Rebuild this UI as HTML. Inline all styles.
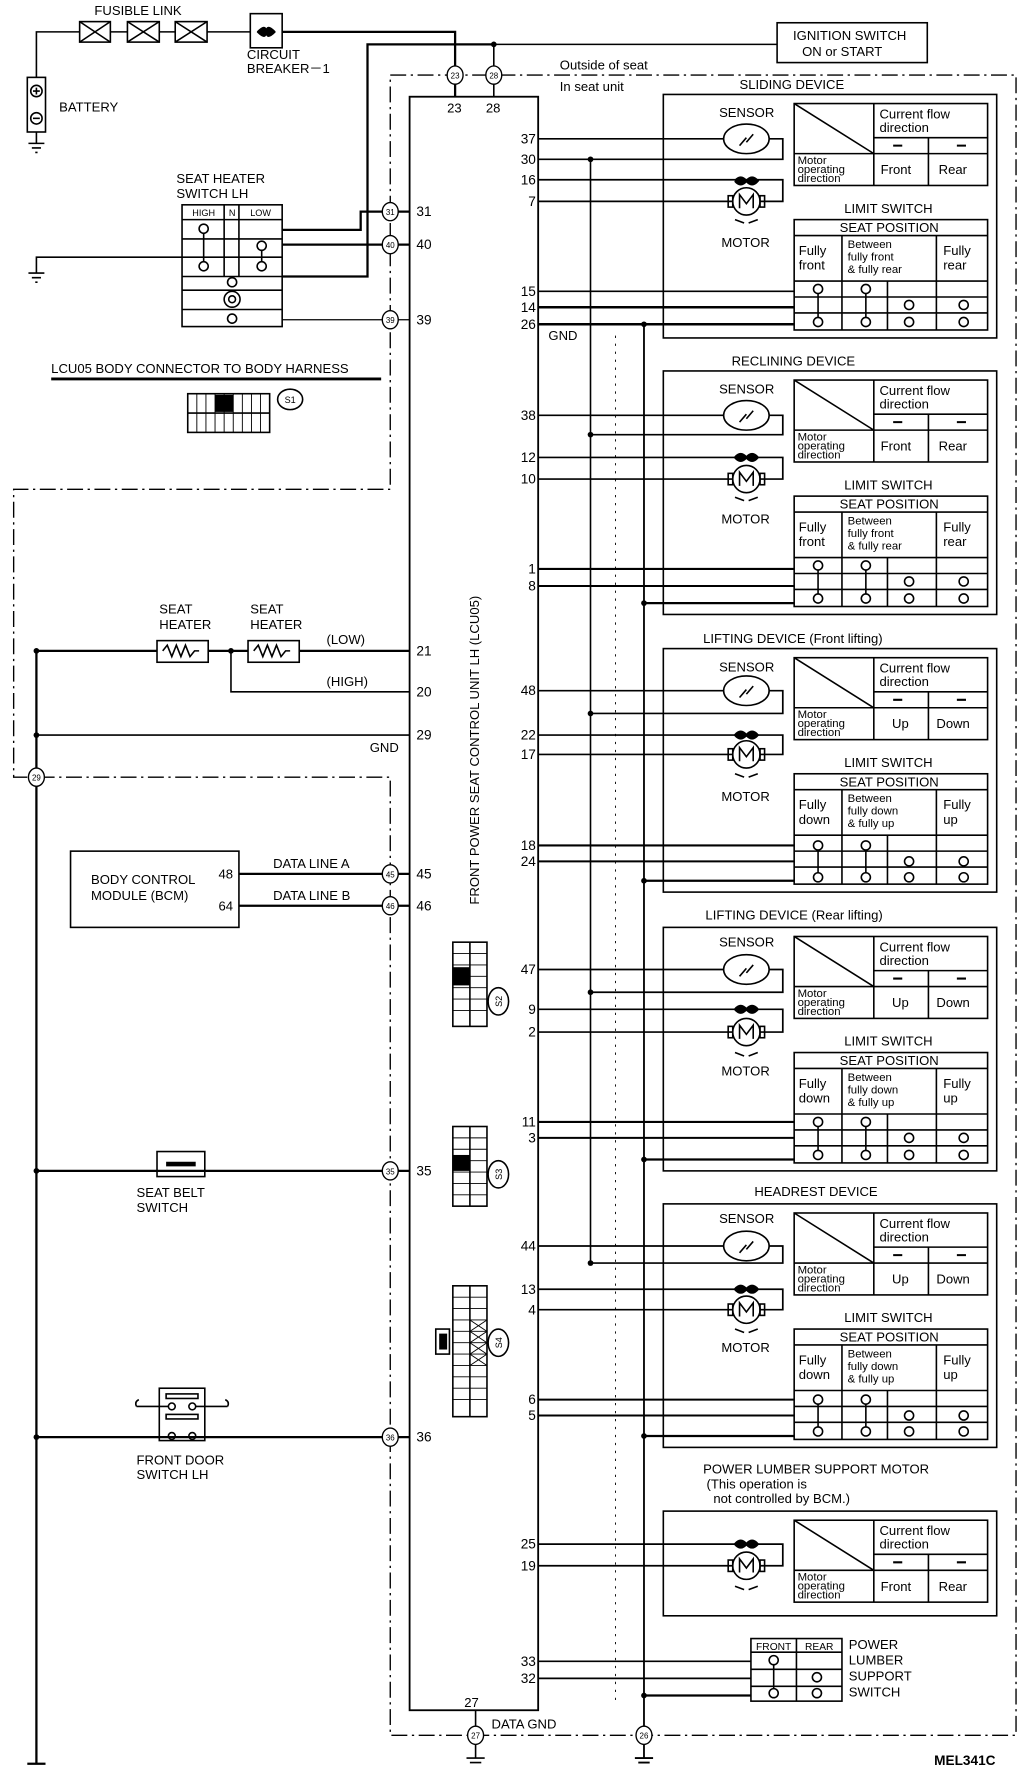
<!DOCTYPE html>
<html><head><meta charset="utf-8"><style>
html,body{margin:0;padding:0;background:#fff;}
svg{display:block;}
text{font-family:"Liberation Sans",sans-serif;fill:#000;}
.s{font-size:10px;}
</style></head><body>
<svg width="1024" height="1766" viewBox="0 0 900 1552" preserveAspectRatio="none" xmlns="http://www.w3.org/2000/svg">
<g fill="none" stroke="#000" stroke-width="1.4">
<path d="M32 68 V28 H70 M97 28 H112 M140 28 H154 M182 28 H220"/>
<rect x="70" y="19" width="27" height="18"/><path d="M70 19 L97 37 M97 19 L70 37"/>
<rect x="112" y="19" width="28" height="18"/><path d="M112 19 L140 37 M140 19 L112 37"/>
<rect x="154" y="19" width="28" height="18"/><path d="M154 19 L182 37 M182 19 L154 37"/>
<rect x="220" y="12" width="28" height="30"/>
<path d="M248 28 H400 V85" stroke-width="2"/>
<path d="M248 243 H323 V39 H434" stroke-width="2"/>
<path d="M434 39 H683 M434 39 V85"/>
<rect x="683" y="20" width="132" height="35"/>
<rect x="24" y="68" width="16" height="48"/>
<circle cx="32" cy="80" r="5"/><path d="M29 80 H35 M32 77 V83"/>
<circle cx="32" cy="104" r="5"/><path d="M29 104 H35"/>
<path d="M32 116 V126 M25 126 H39 M28 130 H36 M31 134 H33"/>
<path d="M343 66 H893 V1525 H343 V683 H12 V430 H343 Z" stroke-dasharray="14,4,2,4" stroke-width="1.2"/>
<rect x="360" y="85" width="113" height="1418" stroke-width="1.6"/>
<path d="M418 1503 V1545 M410 1545 H426 M413 1549 H423 M416 1553 H420"/>
<path d="M566 285 V1545 M558 1545 H574 M561 1549 H571 M564 1553 H568" stroke-width="1.6"/>
<path d="M519 140 V1110" stroke-width="1.4"/>
<path d="M541 295 V1495" stroke-width="0.8" stroke-dasharray="2,5"/>
<rect x="160" y="180" width="88" height="107"/>
<path d="M160 193 H248 M160 210 H248 M160 226 H248 M160 243 H248 M160 255 H248 M160 272 H248 M197 180 V243 M210 180 V243"/>
<path d="M248 202 H317 V186 H360 M248 215 H360" stroke-width="2"/>
<path d="M248 281 H360" stroke-width="1.2"/>
<path d="M160 226 H32 V240 M25 240 H39 M28 244 H36 M31 248 H33"/>
<circle cx="179" cy="201" r="4"/><circle cx="179" cy="234" r="4"/><path d="M179 205 V230"/>
<circle cx="230" cy="216" r="4"/><circle cx="230" cy="234" r="4"/><path d="M230 220 V230"/>
<circle cx="204" cy="248" r="4"/><circle cx="204" cy="263" r="7"/><circle cx="204" cy="263" r="3"/><circle cx="204" cy="280" r="4"/>
<path d="M45 333 H335" stroke-width="2.5"/>
<rect x="165" y="346" width="72" height="34"/><path d="M165 363 H237"/>
<ellipse cx="255" cy="351" rx="11" ry="9"/>
<path d="M32 572 H138 M183 572 H218 M263 572 H360" stroke-width="2"/>
<rect x="138" y="563" width="45" height="19"/><path d="M143 572 l4 -5 l4 10 l4 -10 l4 10 l4 -10 l4 10 l4 -5 h4"/>
<rect x="218" y="563" width="45" height="19"/><path d="M223 572 l4 -5 l4 10 l4 -10 l4 10 l4 -10 l4 10 l4 -5 h4"/>
<path d="M203 572 V608 H360" stroke-width="1.4"/>
<path d="M32 572 V1550 M24 1550 H40 M27 1554 H37 M30 1558 H34" stroke-width="2"/>
<path d="M32 646 H360" stroke-width="1.4"/>
<rect x="62" y="748" width="148" height="67"/>
<path d="M210 768 H360 M210 796 H360" stroke-width="2"/>
<path d="M32 1029 H360" stroke-width="2"/>
<rect x="138" y="1012" width="42" height="22"/>
<path d="M146 1023 H172" stroke-width="4"/>
<path d="M32 1263 H360" stroke-width="2"/>
<rect x="140" y="1220" width="40" height="46"/>
<rect x="146" y="1225" width="28" height="4"/><rect x="146" y="1243" width="28" height="4"/>
<circle cx="151" cy="1236" r="3"/><circle cx="169" cy="1236" r="3"/><circle cx="151" cy="1262" r="3"/><circle cx="169" cy="1262" r="3"/>
<path d="M120 1236 H148 M172 1236 H200 M120 1236 q-2 -4 2 -6 M200 1236 q2 -4 -2 -6"/>
<rect x="398" y="828" width="30" height="74"/><path d="M413 828 V902"/>
<rect x="398" y="990" width="30" height="70"/><path d="M413 990 V1060"/>
<rect x="398" y="1130" width="30" height="115"/><path d="M413 1130 V1245"/>
<rect x="383" y="1168" width="12" height="22"/>
<ellipse cx="438" cy="880" rx="9" ry="12"/><ellipse cx="438" cy="1032" rx="9" ry="12"/><ellipse cx="438" cy="1180" rx="9" ry="12"/>
</g>
<g stroke="#000" stroke-width="0.8" fill="none">
<path d="M398 838 h30 M398 848 h30 M398 858 h30 M398 868 h30 M398 878 h30 M398 888 h30"/>
<path d="M398 1000 h30 M398 1010 h30 M398 1020 h30 M398 1030 h30 M398 1040 h30 M398 1050 h30"/>
<path d="M398 1140 h30 M398 1150 h30 M398 1160 h30 M398 1170 h30 M398 1180 h30 M398 1190 h30 M398 1200 h30 M398 1210 h30 M398 1220 h30 M398 1230 h30"/>
<path d="M173 346 v34 M181 346 v34 M189 346 v34 M197 346 v34 M205 346 v34 M213 346 v34 M221 346 v34 M229 346 v34"/>
<path d="M413 1160 l15 10 M428 1160 l-15 10 M413 1170 l15 10 M428 1170 l-15 10 M413 1180 l15 10 M428 1180 l-15 10 M413 1190 l15 10 M428 1190 l-15 10"/>
</g>
<rect x="398" y="850" width="15" height="16" fill="#000"/>
<rect x="398" y="1015" width="15" height="14" fill="#000"/>
<rect x="386" y="1172" width="7" height="14" fill="#000"/>
<rect x="189" y="347" width="16" height="15" fill="#000"/>
<path d="M226 28 q8 -8 8 0 q0 8 -8 0 M242 28 q-8 -8 -8 0 q0 8 8 0" fill="#000" stroke="#000"/>
<g fill="#000">
<circle cx="434" cy="39" r="2.5"/><circle cx="203" cy="572" r="2.5"/><circle cx="32" cy="572" r="2.5"/><circle cx="32" cy="646" r="2.5"/><circle cx="32" cy="1029" r="2.5"/><circle cx="32" cy="1263" r="2.5"/>
<circle cx="519" cy="140" r="2.5"/><circle cx="519" cy="382" r="2.5"/><circle cx="519" cy="627" r="2.5"/><circle cx="519" cy="872" r="2.5"/><circle cx="519" cy="1110" r="2.5"/>
<circle cx="566" cy="285" r="2.5"/><circle cx="566" cy="530" r="2.5"/><circle cx="566" cy="774" r="2.5"/><circle cx="566" cy="1019" r="2.5"/><circle cx="566" cy="1262" r="2.5"/><circle cx="566" cy="1490" r="2.5"/>
</g>
<g fill="#fff" stroke="#000" stroke-width="1.2">
<ellipse cx="400" cy="66" rx="7" ry="8"/><ellipse cx="434" cy="66" rx="7" ry="8"/>
<ellipse cx="343" cy="186" rx="7" ry="8"/><ellipse cx="343" cy="215" rx="7" ry="8"/><ellipse cx="343" cy="281" rx="7" ry="8"/>
<ellipse cx="32" cy="683" rx="7" ry="8"/>
<ellipse cx="343" cy="768" rx="7" ry="8"/><ellipse cx="343" cy="796" rx="7" ry="8"/>
<ellipse cx="343" cy="1029" rx="7" ry="8"/><ellipse cx="343" cy="1263" rx="7" ry="8"/>
<ellipse cx="418" cy="1525" rx="7" ry="8"/><ellipse cx="566" cy="1525" rx="7" ry="8"/>
</g>
<g font-size="7" text-anchor="middle">
<text x="400" y="69">23</text><text x="434" y="69">28</text><text x="343" y="189">31</text><text x="343" y="218">40</text><text x="343" y="284">39</text><text x="32" y="686">29</text><text x="343" y="771">45</text><text x="343" y="799">46</text><text x="343" y="1032">35</text><text x="343" y="1266">36</text><text x="418" y="1528">27</text><text x="566" y="1528">26</text>
<text x="255" y="354" font-size="8">S1</text>
</g>
<g font-size="8" text-anchor="middle">
<text transform="translate(441,880) rotate(-90)">S2</text>
<text transform="translate(441,1032) rotate(-90)">S3</text>
<text transform="translate(441,1180) rotate(-90)">S4</text>
</g>
<g font-size="11.5">
<text x="83" y="13">FUSIBLE LINK</text>
<text x="217" y="52">CIRCUIT</text><text x="217" y="64">BREAKER－1</text>
<text x="52" y="98">BATTERY</text>
<text x="697" y="35">IGNITION SWITCH</text><text x="705" y="49">ON or START</text>
<text x="492" y="61">Outside of seat</text><text x="492" y="80">In seat unit</text>
<text x="393" y="99">23</text><text x="427" y="99">28</text>
<text x="155" y="161">SEAT HEATER</text><text x="155" y="174">SWITCH LH</text>
<text x="45" y="328">LCU05 BODY CONNECTOR TO BODY HARNESS</text>
<text x="140" y="539">SEAT</text><text x="140" y="553">HEATER</text>
<text x="220" y="539">SEAT</text><text x="220" y="553">HEATER</text>
<text x="287" y="566">(LOW)</text><text x="287" y="603">(HIGH)</text>
<text x="325" y="661">GND</text>
<text x="80" y="777">BODY CONTROL</text><text x="80" y="791">MODULE (BCM)</text>
<text x="192" y="772">48</text><text x="192" y="800">64</text>
<text x="240" y="763">DATA LINE A</text><text x="240" y="791">DATA LINE B</text>
<text x="120" y="1052">SEAT BELT</text><text x="120" y="1065">SWITCH</text>
<text x="120" y="1287">FRONT DOOR</text><text x="120" y="1300">SWITCH LH</text>
<text x="408" y="1500">27</text><text x="432" y="1519">DATA GND</text>
<text x="482" y="299">GND</text>
</g>
<g font-size="12">
<text x="366" y="190">31</text><text x="366" y="219">40</text><text x="366" y="285">39</text>
<text x="366" y="576">21</text><text x="366" y="612">20</text><text x="366" y="650">29</text>
<text x="366" y="772">45</text><text x="366" y="800">46</text><text x="366" y="1033">35</text><text x="366" y="1267">36</text>
</g>
<g font-size="8" text-anchor="middle"><text x="179" y="190">HIGH</text><text x="204" y="190">N</text><text x="229" y="190">LOW</text></g>
<text transform="translate(421,795) rotate(-90)" font-size="11.5">FRONT POWER SEAT CONTROL UNIT LH (LCU05)</text>
<text x="821" y="1551" font-size="12" font-weight="bold">MEL341C</text>

<g font-size="12" text-anchor="end">
<text x="471" y="126">37</text><text x="471" y="144">30</text><text x="471" y="162">16</text><text x="471" y="181">7</text>
<text x="471" y="260">15</text><text x="471" y="274">14</text><text x="471" y="289">26</text>
<text x="471" y="369">38</text><text x="471" y="406">12</text><text x="471" y="425">10</text><text x="471" y="504">1</text><text x="471" y="519">8</text>
<text x="471" y="611">48</text><text x="471" y="650">22</text><text x="471" y="667">17</text><text x="471" y="747">18</text><text x="471" y="761">24</text>
<text x="471" y="856">47</text><text x="471" y="891">9</text><text x="471" y="911">2</text><text x="471" y="990">11</text><text x="471" y="1004">3</text>
<text x="471" y="1099">44</text><text x="471" y="1137">13</text><text x="471" y="1155">4</text><text x="471" y="1234">6</text><text x="471" y="1248">5</text>
<text x="471" y="1361">25</text><text x="471" y="1380">19</text>
<text x="471" y="1464">33</text><text x="471" y="1479">32</text>
</g>

<g fill="none" stroke="#000" stroke-width="1.5">
<path d="M473 122 H636 M676 122 H688 V140 H473 M473 158 H688 V177 H668 M473 177 H644"/>
<path d="M473 256 H698"/><path d="M473 270 H698 M473 285 H698" stroke-width="2.2"/>
<path d="M473 365 H636 M676 365 H688 V382 H519 M473 402 H688 V421 H668 M473 421 H644"/>
<path d="M473 500 H698 M473 515 H698" stroke-width="1.8"/><path d="M566 530 H698" stroke-width="2"/>
<path d="M473 607 H636 M676 607 H688 V627 H519 M473 646 H688 V663 H668 M473 663 H644"/>
<path d="M473 743 H698 M473 757 H698" stroke-width="1.8"/><path d="M566 774 H698" stroke-width="2"/>
<path d="M473 852 H636 M676 852 H688 V872 H519 M473 887 H688 V907 H668 M473 907 H644"/>
<path d="M473 986 H698 M473 1000 H698" stroke-width="1.8"/><path d="M566 1019 H698" stroke-width="2"/>
<path d="M473 1095 H636 M676 1095 H688 V1110 H519 M473 1133 H688 V1151 H668 M473 1151 H644"/>
<path d="M473 1230 H698 M473 1244 H698" stroke-width="1.8"/><path d="M566 1262 H698" stroke-width="2"/>
<path d="M473 1357 H688 V1376 H668 M473 1376 H644"/>
<path d="M473 1460 H660 M473 1475 H660"/><path d="M566 1490 H660" stroke-width="2"/>
</g>

<g transform="translate(0,83)">
<g fill="none" stroke="#000" stroke-width="1.4">
<rect x="583" y="0" width="293" height="214"/>
<ellipse cx="656" cy="39" rx="20" ry="13"/><path d="M650 45 l6 -7 M656 42 l6 -7"/>
<circle cx="656" cy="94" r="12"/><rect x="640" y="89" width="4" height="10"/><rect x="668" y="89" width="4" height="10"/>
<path d="M650 100 V88 L656 96 L662 88 V100"/>
<path d="M646 110 l8 3 M666 110 l-8 3"/>
<rect x="698" y="8" width="170" height="72"/><path d="M768 8 V80 M768 38 H868 M698 52 H868 M816 38 V80 M698 8 L768 52"/>
<path d="M785 45 h8 M841 45 h8" stroke-width="1.8"/>
<rect x="698" y="110" width="170" height="97"/><path d="M698 124 H868 M698 164 H868 M698 178 H868 M698 192 H868 M740 124 V207 M823 124 V207 M780 164 V207"/>
<circle cx="719" cy="171" r="4"/><circle cx="719" cy="200" r="4"/><path d="M719 175 V196"/>
<circle cx="761" cy="171" r="4"/><circle cx="761" cy="200" r="4"/><path d="M761 175 V196"/>
<circle cx="799" cy="185" r="4"/><circle cx="799" cy="200" r="4"/>
<circle cx="847" cy="185" r="4"/><circle cx="847" cy="200" r="4"/>
</g>
<path d="M646 76 q5 -6 10 0 q5 -6 10 0 q-5 6 -10 0 q-5 6 -10 0" fill="#000" stroke="#000" stroke-width="2"/>
<g font-size="11.5"><text x="632" y="20">SENSOR</text><text x="634" y="134">MOTOR</text>
<text x="742" y="104">LIMIT SWITCH</text><text x="738" y="121">SEAT POSITION</text>
<text x="773" y="21">Current flow</text><text x="773" y="33">direction</text>
<text class="s" x="701" y="61">Motor</text><text class="s" x="701" y="69">operating</text><text class="s" x="701" y="77">direction</text>
<text x="702" y="141">Fully</text><text x="702" y="154">front</text>
<text class="s" x="745" y="135">Between</text><text class="s" x="745" y="146">fully front</text><text class="s" x="745" y="157">&amp; fully rear</text>
<text x="829" y="141">Fully</text><text x="829" y="154">rear</text>
<text x="774" y="70">Front</text><text x="825" y="70">Rear</text></g>
</g>
<text x="650" y="78" font-size="11.5">SLIDING DEVICE</text>

<g transform="translate(0,326)">
<g fill="none" stroke="#000" stroke-width="1.4">
<rect x="583" y="0" width="293" height="214"/>
<ellipse cx="656" cy="39" rx="20" ry="13"/><path d="M650 45 l6 -7 M656 42 l6 -7"/>
<circle cx="656" cy="95" r="12"/><rect x="640" y="90" width="4" height="10"/><rect x="668" y="90" width="4" height="10"/>
<path d="M650 101 V89 L656 97 L662 89 V101"/>
<path d="M646 111 l8 3 M666 111 l-8 3"/>
<rect x="698" y="8" width="170" height="72"/><path d="M768 8 V80 M768 38 H868 M698 52 H868 M816 38 V80 M698 8 L768 52"/>
<path d="M785 45 h8 M841 45 h8" stroke-width="1.8"/>
<rect x="698" y="110" width="170" height="97"/><path d="M698 124 H868 M698 164 H868 M698 178 H868 M698 192 H868 M740 124 V207 M823 124 V207 M780 164 V207"/>
<circle cx="719" cy="171" r="4"/><circle cx="719" cy="200" r="4"/><path d="M719 175 V196"/>
<circle cx="761" cy="171" r="4"/><circle cx="761" cy="200" r="4"/><path d="M761 175 V196"/>
<circle cx="799" cy="185" r="4"/><circle cx="799" cy="200" r="4"/>
<circle cx="847" cy="185" r="4"/><circle cx="847" cy="200" r="4"/>
</g>
<path d="M646 76 q5 -6 10 0 q5 -6 10 0 q-5 6 -10 0 q-5 6 -10 0" fill="#000" stroke="#000" stroke-width="2"/>
<g font-size="11.5"><text x="632" y="20">SENSOR</text><text x="634" y="134">MOTOR</text>
<text x="742" y="104">LIMIT SWITCH</text><text x="738" y="121">SEAT POSITION</text>
<text x="773" y="21">Current flow</text><text x="773" y="33">direction</text>
<text class="s" x="701" y="61">Motor</text><text class="s" x="701" y="69">operating</text><text class="s" x="701" y="77">direction</text>
<text x="702" y="141">Fully</text><text x="702" y="154">front</text>
<text class="s" x="745" y="135">Between</text><text class="s" x="745" y="146">fully front</text><text class="s" x="745" y="157">&amp; fully rear</text>
<text x="829" y="141">Fully</text><text x="829" y="154">rear</text>
<text x="774" y="70">Front</text><text x="825" y="70">Rear</text></g>
</g>
<text x="643" y="321" font-size="11.5">RECLINING DEVICE</text>

<g transform="translate(0,570)">
<g fill="none" stroke="#000" stroke-width="1.4">
<rect x="583" y="0" width="293" height="214"/>
<ellipse cx="656" cy="37" rx="20" ry="13"/><path d="M650 43 l6 -7 M656 40 l6 -7"/>
<circle cx="656" cy="93" r="12"/><rect x="640" y="88" width="4" height="10"/><rect x="668" y="88" width="4" height="10"/>
<path d="M650 99 V87 L656 95 L662 87 V99"/>
<path d="M646 110 l8 3 M666 110 l-8 3"/>
<rect x="698" y="8" width="170" height="72"/><path d="M768 8 V80 M768 38 H868 M698 52 H868 M816 38 V80 M698 8 L768 52"/>
<path d="M785 45 h8 M841 45 h8" stroke-width="1.8"/>
<rect x="698" y="110" width="170" height="97"/><path d="M698 124 H868 M698 164 H868 M698 178 H868 M698 192 H868 M740 124 V207 M823 124 V207 M780 164 V207"/>
<circle cx="719" cy="173" r="4"/><circle cx="719" cy="201" r="4"/><path d="M719 177 V197"/>
<circle cx="761" cy="173" r="4"/><circle cx="761" cy="201" r="4"/><path d="M761 177 V197"/>
<circle cx="799" cy="187" r="4"/><circle cx="799" cy="201" r="4"/>
<circle cx="847" cy="187" r="4"/><circle cx="847" cy="201" r="4"/>
</g>
<path d="M646 76 q5 -6 10 0 q5 -6 10 0 q-5 6 -10 0 q-5 6 -10 0" fill="#000" stroke="#000" stroke-width="2"/>
<g font-size="11.5"><text x="632" y="20">SENSOR</text><text x="634" y="134">MOTOR</text>
<text x="742" y="104">LIMIT SWITCH</text><text x="738" y="121">SEAT POSITION</text>
<text x="773" y="21">Current flow</text><text x="773" y="33">direction</text>
<text class="s" x="701" y="61">Motor</text><text class="s" x="701" y="69">operating</text><text class="s" x="701" y="77">direction</text>
<text x="702" y="141">Fully</text><text x="702" y="154">down</text>
<text class="s" x="745" y="135">Between</text><text class="s" x="745" y="146">fully down</text><text class="s" x="745" y="157">&amp; fully up</text>
<text x="829" y="141">Fully</text><text x="829" y="154">up</text>
<text x="784" y="70">Up</text><text x="823" y="70">Down</text></g>
</g>
<text x="618" y="565" font-size="11.5">LIFTING DEVICE (Front lifting)</text>

<g transform="translate(0,815)">
<g fill="none" stroke="#000" stroke-width="1.4">
<rect x="583" y="0" width="293" height="214"/>
<ellipse cx="656" cy="37" rx="20" ry="13"/><path d="M650 43 l6 -7 M656 40 l6 -7"/>
<circle cx="656" cy="92" r="12"/><rect x="640" y="87" width="4" height="10"/><rect x="668" y="87" width="4" height="10"/>
<path d="M650 98 V86 L656 94 L662 86 V98"/>
<path d="M646 110 l8 3 M666 110 l-8 3"/>
<rect x="698" y="8" width="170" height="72"/><path d="M768 8 V80 M768 38 H868 M698 52 H868 M816 38 V80 M698 8 L768 52"/>
<path d="M785 45 h8 M841 45 h8" stroke-width="1.8"/>
<rect x="698" y="110" width="170" height="97"/><path d="M698 124 H868 M698 164 H868 M698 178 H868 M698 192 H868 M740 124 V207 M823 124 V207 M780 164 V207"/>
<circle cx="719" cy="171" r="4"/><circle cx="719" cy="200" r="4"/><path d="M719 175 V196"/>
<circle cx="761" cy="171" r="4"/><circle cx="761" cy="200" r="4"/><path d="M761 175 V196"/>
<circle cx="799" cy="185" r="4"/><circle cx="799" cy="200" r="4"/>
<circle cx="847" cy="185" r="4"/><circle cx="847" cy="200" r="4"/>
</g>
<path d="M646 72 q5 -6 10 0 q5 -6 10 0 q-5 6 -10 0 q-5 6 -10 0" fill="#000" stroke="#000" stroke-width="2"/>
<g font-size="11.5"><text x="632" y="17">SENSOR</text><text x="634" y="130">MOTOR</text>
<text x="742" y="104">LIMIT SWITCH</text><text x="738" y="121">SEAT POSITION</text>
<text x="773" y="21">Current flow</text><text x="773" y="33">direction</text>
<text class="s" x="701" y="61">Motor</text><text class="s" x="701" y="69">operating</text><text class="s" x="701" y="77">direction</text>
<text x="702" y="141">Fully</text><text x="702" y="154">down</text>
<text class="s" x="745" y="135">Between</text><text class="s" x="745" y="146">fully down</text><text class="s" x="745" y="157">&amp; fully up</text>
<text x="829" y="141">Fully</text><text x="829" y="154">up</text>
<text x="784" y="70">Up</text><text x="823" y="70">Down</text></g>
</g>
<text x="620" y="808" font-size="11.5">LIFTING DEVICE (Rear lifting)</text>

<g transform="translate(0,1058)">
<g fill="none" stroke="#000" stroke-width="1.4">
<rect x="583" y="0" width="293" height="214"/>
<ellipse cx="656" cy="37" rx="20" ry="13"/><path d="M650 43 l6 -7 M656 40 l6 -7"/>
<circle cx="656" cy="93" r="12"/><rect x="640" y="88" width="4" height="10"/><rect x="668" y="88" width="4" height="10"/>
<path d="M650 99 V87 L656 95 L662 87 V99"/>
<path d="M646 110 l8 3 M666 110 l-8 3"/>
<rect x="698" y="8" width="170" height="72"/><path d="M768 8 V80 M768 38 H868 M698 52 H868 M816 38 V80 M698 8 L768 52"/>
<path d="M785 45 h8 M841 45 h8" stroke-width="1.8"/>
<rect x="698" y="110" width="170" height="97"/><path d="M698 124 H868 M698 164 H868 M698 178 H868 M698 192 H868 M740 124 V207 M823 124 V207 M780 164 V207"/>
<circle cx="719" cy="172" r="4"/><circle cx="719" cy="200" r="4"/><path d="M719 176 V196"/>
<circle cx="761" cy="172" r="4"/><circle cx="761" cy="200" r="4"/><path d="M761 176 V196"/>
<circle cx="799" cy="186" r="4"/><circle cx="799" cy="200" r="4"/>
<circle cx="847" cy="186" r="4"/><circle cx="847" cy="200" r="4"/>
</g>
<path d="M646 75 q5 -6 10 0 q5 -6 10 0 q-5 6 -10 0 q-5 6 -10 0" fill="#000" stroke="#000" stroke-width="2"/>
<g font-size="11.5"><text x="632" y="17">SENSOR</text><text x="634" y="130">MOTOR</text>
<text x="742" y="104">LIMIT SWITCH</text><text x="738" y="121">SEAT POSITION</text>
<text x="773" y="21">Current flow</text><text x="773" y="33">direction</text>
<text class="s" x="701" y="61">Motor</text><text class="s" x="701" y="69">operating</text><text class="s" x="701" y="77">direction</text>
<text x="702" y="141">Fully</text><text x="702" y="154">down</text>
<text class="s" x="745" y="135">Between</text><text class="s" x="745" y="146">fully down</text><text class="s" x="745" y="157">&amp; fully up</text>
<text x="829" y="141">Fully</text><text x="829" y="154">up</text>
<text x="784" y="70">Up</text><text x="823" y="70">Down</text></g>
</g>
<text x="663" y="1051" font-size="11.5">HEADREST DEVICE</text>

<g font-size="11.5"><text x="618" y="1295">POWER LUMBER SUPPORT MOTOR</text><text x="621" y="1308">(This operation is</text><text x="627" y="1321">not controlled by BCM.)</text></g>
<g fill="none" stroke="#000" stroke-width="1.4">
<rect x="583" y="1328" width="293" height="92"/>
<circle cx="656" cy="1376" r="12"/><rect x="640" y="1371" width="4" height="10"/><rect x="668" y="1371" width="4" height="10"/>
<path d="M650 1382 V1370 L656 1378 L662 1370 V1382"/>
<path d="M646 1394 l8 3 M666 1394 l-8 3"/>
<rect x="698" y="1336" width="170" height="72"/><path d="M768 1336 V1408 M768 1366 H868 M698 1380 H868 M816 1366 V1408 M698 1336 L768 1380"/>
<path d="M785 1373 h8 M841 1373 h8" stroke-width="1.8"/>
<rect x="660" y="1440" width="80" height="55"/><path d="M660 1452 H740 M660 1467 H740 M660 1482 H740 M700 1440 V1495"/>
<circle cx="680" cy="1459" r="4"/><circle cx="680" cy="1488" r="4"/><path d="M680 1463 V1484"/>
<circle cx="718" cy="1474" r="4"/><circle cx="718" cy="1488" r="4"/>
</g>
<path d="M646 1357 q5 -6 10 0 q5 -6 10 0 q-5 6 -10 0 q-5 6 -10 0" fill="#000" stroke="#000" stroke-width="2"/>
<g font-size="11.5">
<text x="773" y="1349">Current flow</text><text x="773" y="1361">direction</text>
<text class="s" x="701" y="1389">Motor</text><text class="s" x="701" y="1397">operating</text><text class="s" x="701" y="1405">direction</text>
<text x="774" y="1398">Front</text><text x="825" y="1398">Rear</text>
<text x="746" y="1449">POWER</text><text x="746" y="1463">LUMBER</text><text x="746" y="1477">SUPPORT</text><text x="746" y="1491">SWITCH</text>
</g>
<g font-size="9" text-anchor="middle"><text x="680" y="1450">FRONT</text><text x="720" y="1450">REAR</text></g>
</svg>
</body></html>
